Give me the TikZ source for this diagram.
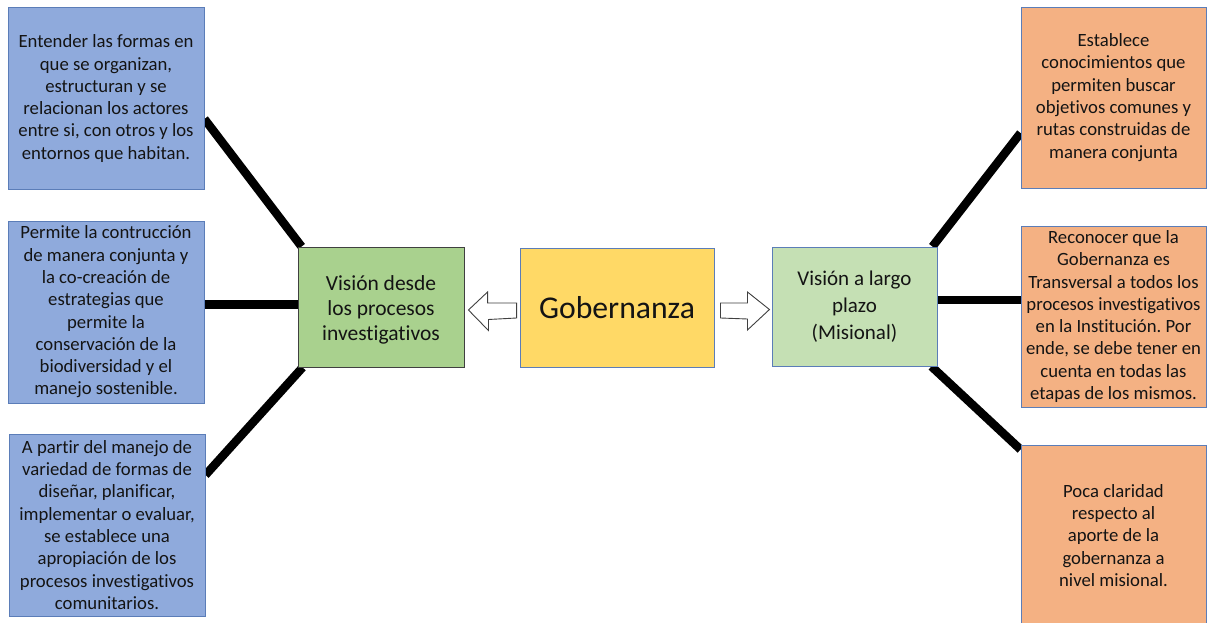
\documentclass[tikz,border=0pt]{standalone}
\usepackage{fontspec}
\setmainfont[Ligatures=NoCommon]{Carlito}
\frenchspacing
\usetikzlibrary{calc,backgrounds}
\definecolor{bluefill}{HTML}{8FAADC}
\definecolor{blueline}{HTML}{5B7DB8}
\definecolor{greenA}{HTML}{A9D18E}
\definecolor{greenB}{HTML}{C5E0B4}
\definecolor{yellowfill}{HTML}{FFD966}
\definecolor{orangefill}{HTML}{F4B183}
\definecolor{txt}{HTML}{141414}
\tikzset{
  base/.style={rectangle, align=center, inner sep=0pt, text=txt, line width=0.9pt},
  leftbox/.style={base, draw=blueline, fill=bluefill, minimum width=196pt, minimum height=182pt,
     font=\fontsize{18.7}{22.3}\selectfont},
  rightbox/.style={base, draw=blueline, fill=orangefill, minimum width=185pt, minimum height=181pt,
     font=\fontsize{18.7}{22.3}\selectfont},
  visionA/.style={base, draw=black!75, fill=greenA, minimum width=166pt, minimum height=120pt,
     font=\fontsize{21.5}{25}\selectfont},
  visionB/.style={base, draw=blueline, fill=greenB, minimum width=165pt, minimum height=119pt,
     font=\fontsize{21}{27}\selectfont},
  centerbox/.style={base, draw=blueline, fill=yellowfill, minimum width=194pt, minimum height=119pt,
     font=\fontsize{31.7}{36}\selectfont},
  link/.style={line width=8.5pt, black, line cap=butt},
  blockarrow/.style={draw=black!75, fill=white, line width=0.9pt, line join=miter}
}
\begin{document}
\begin{tikzpicture}[x=1pt,y=1pt]
\clip (0,0) rectangle (1207,622);

\node[leftbox] (L1) at (106,523.5) {Entender las formas en\\que se organizan,\\estructuran y se\\relacionan los actores\\entre si, con otros y los\\entornos que habitan.};
\node[leftbox] (L2) at (106,310) {Permite la contrucción\\de manera conjunta y\\la co-creación de\\estrategias que\\permite la\\conservación de la\\biodiversidad y el\\manejo sostenible.};
\node[leftbox] (L3) at (107,97) {A partir del manejo de\\variedad de formas de\\diseñar, planificar,\\implementar o evaluar,\\se establece una\\apropiación de los\\procesos investigativos\\comunitarios.};

\node[visionA] (G1) at (381,315) {};
\node[font=\fontsize{21.5}{25}\selectfont, text=txt, align=center, inner sep=0pt] (G1t) at ([yshift=-3pt]G1.center) {Visión desde\\los procesos\\investigativos};
\node[centerbox] (Gob) at (617,314.5) {Gobernanza};
\node[visionB] (G2) at (854.5,315.5) {Visión a largo\\plazo\\(Misional)};

\node[rightbox] (R1) at (1113.5,524.5) {Establece\\conocimientos que\\permiten buscar\\objetivos comunes y\\rutas construidas de\\manera conjunta};
\node[rightbox] (R2) at (1113.5,305.5) {Reconocer que la\\Gobernanza es\\Transversal a todos los\\procesos investigativos\\en la Institución. Por\\ende, se debe tener en\\cuenta en todas las\\etapas de los mismos.};
\node[rightbox] (R3) at (1113.5,86.5) {Poca claridad\\respecto al\\aporte de la\\gobernanza a\\nivel misional.};

\begin{pgfonlayer}{background}
\fill[white] (0,0) rectangle (1207,622);
\draw[link] ([yshift=-20.5pt]L1.east) -- ([xshift=4pt]G1.north west);
\draw[link] ([yshift=7.5pt]L2.east) -- ([yshift=7.5pt]L2.east -| G1.west);
\draw[link] ([yshift=50pt]L3.east) -- ([xshift=5pt]G1.south west);
\draw[link] ([xshift=-5pt]G2.north east) -- ([yshift=-35.5pt]R1.west);
\draw[link] ([yshift=6.5pt]G2.east) -- ([yshift=6.5pt]G2.east -| R2.west);
\draw[link] ([xshift=-6pt]G2.south east) -- ([yshift=-5pt]R3.north west);
\end{pgfonlayer}

% block arrows from Gobernanza to the two visions
\draw[blockarrow] ($(Gob.west)+(-3,-10.5)$) -- ++(0,15) -- ++(-29,0) -- ++(0,11) -- ($(G1.east)+(4,-3)$) -- ++(20,-20.5) -- ++(0,11) -- cycle;
\draw[blockarrow] ($(Gob.east)+(6,-10.5)$) -- ++(0,15) -- ++(27,0) -- ++(0,11) -- ($(G2.east)+(-168,-3)$) -- ++(-22,-20.5) -- ++(0,11) -- cycle;
\end{tikzpicture}
\end{document}
